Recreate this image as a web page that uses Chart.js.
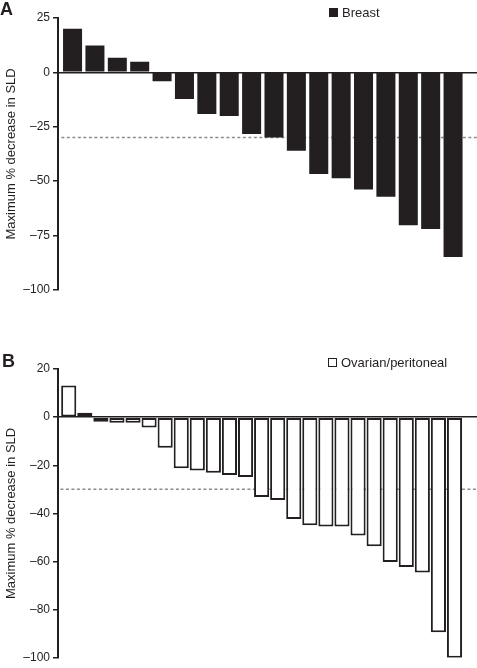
<!DOCTYPE html>
<html>
<head>
<meta charset="utf-8">
<script src="https://cdn.jsdelivr.net/npm/chart.js@4.4.1/dist/chart.umd.min.js"></script>
<style>
  html, body { margin: 0; padding: 0; background: #fff; }
  body { width: 477px; height: 668px; position: relative; overflow: hidden; font-family: "Liberation Sans", Arial, sans-serif; color: #231f20; }
  .panel { position: absolute; left: 0; width: 477px; }
  .letter { position: absolute; font-weight: bold; font-size: 18px; line-height: 1; }
  .legend { position: absolute; font-size: 13px; line-height: 1; display: flex; align-items: center; }
  .swatch { width: 9px; height: 9px; margin-right: 4px; box-sizing: border-box; }
</style>
</head>
<body>
<div class="panel" style="top:0;height:300px"><canvas id="chartA"></canvas></div>
<div class="panel" style="top:351px;height:317px"><canvas id="chartB"></canvas></div>

<div class="letter" style="left:0;top:0">A</div>
<div class="letter" style="left:2px;top:352px">B</div>
<div class="legend" style="left:329px;top:6px"><div class="swatch" style="background:#231f20"></div>Breast</div>
<div class="legend" style="left:328px;top:356px"><div class="swatch" style="border:1.5px solid #231f20;background:#fff"></div>Ovarian/peritoneal</div>

<script>
const ink = "#231f20";
const dashGray = "#8c8c8c";

// panel A: breast cancer patients, best % change in SLD
const breastCases = [1, 2, 3, 4, 5, 6, 7, 8, 9, 10, 11, 12, 13, 14, 15, 16, 17, 18];
const breastChange = [20, 12.3, 6.7, 4.9, -4.1, -12.3, -19.2, -20.1, -28.3, -30, -36.1, -46.7, -48.7, -53.9, -57.2, -70.3, -72, -84.9];
const breastTicks = [25, 0, -25, -50, -75, -100];

// panel B: ovarian/peritoneal patients
const ovarianCases = [1, 2, 3, 4, 5, 6, 7, 8, 9, 10, 11, 12, 13, 14, 15, 16, 17, 18, 19, 20, 21, 22, 23, 24, 25];
const ovarianChange = [13.1, 1.8, -1.9, -2.3, -2.3, -4.3, -12.7, -21.2, -22.2, -23.1, -24, -24.9, -33.2, -34.4, -42.3, -44.9, -45.4, -45.4, -49.2, -53.6, -60.2, -62.3, -64.6, -89.4, -100];
const ovarianTicks = [20, 0, -20, -40, -60, -80, -100];

const responseCutoff = -30;
const axisTitle = "Maximum % decrease in SLD";

function fmtTick(v) {
  return v < 0 ? "\u2013" + Math.abs(v) : String(v);
}

function renderWaterfall(id, cases, values, ticks, opts) {
  const canvas = document.getElementById(id);
  if (!canvas) return;
  const step = ticks[0] - ticks[1];
  new Chart(canvas, {
    type: "bar",
    data: {
      datasets: [
        {
          type: "bar",
          data: cases.map((c, i) => ({ x: c, y: values[i] })),
          backgroundColor: opts.fill,
          borderColor: ink,
          borderWidth: opts.border,
          borderSkipped: false,
          categoryPercentage: 1,
          barPercentage: opts.barPct,
          order: 1,
        },
        {
          type: "line",
          data: [{ x: opts.xMin + 0.15, y: responseCutoff }, { x: opts.xMax, y: responseCutoff }],
          borderColor: dashGray,
          borderWidth: 1.5,
          borderDash: [3, 2.5],
          pointRadius: 0,
          order: 2,
        },
      ],
    },
    options: {
      responsive: true,
      maintainAspectRatio: false,
      animation: false,
      layout: { padding: { top: 18, bottom: opts.padBottom, left: 0, right: 0 } },
      plugins: { legend: { display: false }, tooltip: { enabled: false } },
      scales: {
        x: { type: "linear", offset: false, min: opts.xMin, max: opts.xMax, display: false },
        y: {
          min: ticks[ticks.length - 1],
          max: ticks[0],
          afterFit: (scale) => { scale.width = 58; },
          ticks: {
            stepSize: step,
            color: ink,
            padding: 3,
            font: { family: "'Liberation Sans', Arial, sans-serif", size: 12 },
            callback: (v) => fmtTick(v),
          },
          grid: {
            color: (ctx) => (ctx.tick && ctx.tick.value === 0 ? ink : "rgba(0,0,0,0)"),
            lineWidth: 1.5,
            tickColor: ink,
            tickLength: 5,
            tickWidth: 1.5,
          },
          border: { display: true, color: ink, width: 2 },
          title: {
            display: true,
            text: axisTitle,
            color: ink,
            padding: { top: 4, bottom: 0 },
            font: { family: "'Liberation Sans', Arial, sans-serif", size: 13 },
          },
        },
      },
    },
  });
}

renderWaterfall("chartA", breastCases, breastChange, breastTicks, {
  fill: ink, border: 0, barPct: 0.85, xMin: 0.35, xMax: 19.07, padBottom: 8,
});
renderWaterfall("chartB", ovarianCases, ovarianChange, ovarianTicks, {
  fill: "#ffffff", border: 2, barPct: 0.94, xMin: 0.333, xMax: 26.4, padBottom: 5,
});
</script>
</body>
</html>
